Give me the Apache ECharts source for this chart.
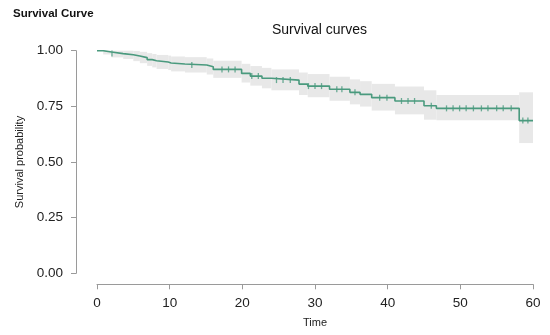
<!DOCTYPE html>
<html>
<head>
<meta charset="utf-8">
<script src="https://cdn.jsdelivr.net/npm/echarts@6/dist/echarts.min.js"></script>
<style>
html,body{margin:0;padding:0;background:#fff;}
#c{width:550px;height:335px;}
</style>
</head>
<body>
<div id="c"></div>
<script>
// Step times (start of each step), survival estimate, and 95% CI bounds
var stepTimes = [0, 0.85, 2.0, 3.6, 5.0, 5.9, 6.9, 7.6, 8.2, 9.8, 10.2, 12.1, 15.1, 16.0, 19.9, 21.1, 22.7, 24.0, 27.8, 29.0, 32.0, 34.8, 36.2, 37.8, 41.0, 45.0, 46.7, 58.1];
var survival  = [1.000, 0.994, 0.987, 0.982, 0.976, 0.969, 0.960, 0.955, 0.949, 0.945, 0.940, 0.936, 0.928, 0.916, 0.898, 0.886, 0.876, 0.868, 0.850, 0.841, 0.827, 0.813, 0.804, 0.789, 0.774, 0.753, 0.741, 0.686];
var lowerCI   = [1.000, 0.983, 0.970, 0.963, 0.953, 0.944, 0.932, 0.925, 0.918, 0.913, 0.907, 0.902, 0.893, 0.878, 0.857, 0.843, 0.831, 0.822, 0.801, 0.791, 0.775, 0.759, 0.749, 0.731, 0.714, 0.690, 0.688, 0.585];
var upperCI   = [1.000, 1.000, 1.000, 1.000, 0.999, 0.995, 0.989, 0.985, 0.981, 0.978, 0.974, 0.971, 0.965, 0.955, 0.941, 0.931, 0.923, 0.916, 0.902, 0.895, 0.883, 0.871, 0.863, 0.851, 0.839, 0.822, 0.801, 0.813];
var lastTime = 60.0;
// Censoring times
var censorTimes = [2.06, 13.05, 17.2, 18.1, 19.0, 21.3, 22.2, 24.7, 25.6, 26.6, 29.1, 30.0, 30.9, 33.0, 33.7, 35.5, 38.9, 39.9, 41.9, 42.8, 43.7, 46.0, 48.1, 49.0, 49.9, 50.8, 51.8, 52.9, 53.8, 55.0, 55.9, 57.0, 58.6, 59.3];
// Axis ticks
var xTicks = [0, 10, 20, 30, 40, 50, 60];
var yTicks = [0.00, 0.25, 0.50, 0.75, 1.00];

var lineColor = '#4a9a7e';

function survAt(t){
  var s = survival[0];
  for (var i = 0; i < stepTimes.length; i++) { if (stepTimes[i] <= t) s = survival[i]; }
  return s;
}

var lineData = stepTimes.map(function(t,i){ return [t, survival[i]]; });
lineData.push([lastTime, survival[survival.length-1]]);

var bandData = stepTimes.map(function(t,i){
  var tEnd = i < stepTimes.length-1 ? stepTimes[i+1] : lastTime;
  return [t, tEnd, lowerCI[i], upperCI[i]];
});

var censorData = censorTimes.map(function(t){ return [t, survAt(t)]; });

var chart = echarts.init(document.getElementById('c'), null, {renderer:'canvas'});
var font = 'Liberation Sans, Arial, sans-serif';
chart.setOption({
  animation: false,
  backgroundColor: '#ffffff',
  title: [
    {text: 'Survival Curve', left: 8, top: 3, textStyle:{fontFamily: font, fontSize: 11.5, fontWeight: 'bold', color:'#111'}},
    {text: 'Survival curves', left: 267, top: 18, textStyle:{fontFamily: font, fontSize: 14, fontWeight: 'normal', color:'#111'}}
  ],
  grid: {left: 97, right: 17, top: 50.7, bottom: 61.7, containLabel: false},
  xAxis: {
    type: 'value', min: xTicks[0], max: xTicks[xTicks.length-1], interval: 10,
    offset: 11,
    name: 'Time', nameLocation: 'middle', nameGap: 33,
    nameTextStyle: {fontFamily: font, fontSize: 11, color: '#222'},
    axisLine: {show: true, onZero: false, lineStyle: {color: '#9a9a9a', width: 1}},
    axisTick: {show: true, length: 5, lineStyle: {color: '#9a9a9a'}},
    axisLabel: {fontFamily: font, fontSize: 13.5, color: '#222', margin: 12},
    splitLine: {show: false}
  },
  yAxis: {
    type: 'value', min: yTicks[0], max: yTicks[yTicks.length-1], interval: 0.25,
    offset: 21,
    name: 'Survival probability', nameLocation: 'middle', nameGap: 50, nameRotate: 90,
    nameTextStyle: {fontFamily: font, fontSize: 11, color: '#222'},
    axisLine: {show: true, onZero: false, lineStyle: {color: '#9a9a9a', width: 1}},
    axisTick: {show: true, length: 5, lineStyle: {color: '#9a9a9a'}},
    axisLabel: {fontFamily: font, fontSize: 13.5, color: '#222', margin: 13, formatter: function(v){ return v.toFixed(2); }},
    splitLine: {show: false}
  },
  series: [
    {
      type: 'custom',
      data: bandData,
      silent: true,
      renderItem: function(params, api){
        var p0 = api.coord([api.value(0), api.value(3)]);
        var p1 = api.coord([api.value(1), api.value(2)]);
        return {type:'rect', shape:{x:p0[0], y:p0[1], width:p1[0]-p0[0], height:p1[1]-p0[1]}, style:{fill:'#e8e8e8'}};
      },
      z: 1
    },
    {
      type: 'line', step: 'end', data: lineData, showSymbol: false,
      lineStyle: {color: lineColor, width: 1.6}, z: 3
    },
    {
      type: 'scatter', data: censorData, symbol: 'rect', symbolSize: [1.3, 6],
      itemStyle: {color: lineColor}, z: 4
    }
  ]
});
</script>
</body>
</html>
